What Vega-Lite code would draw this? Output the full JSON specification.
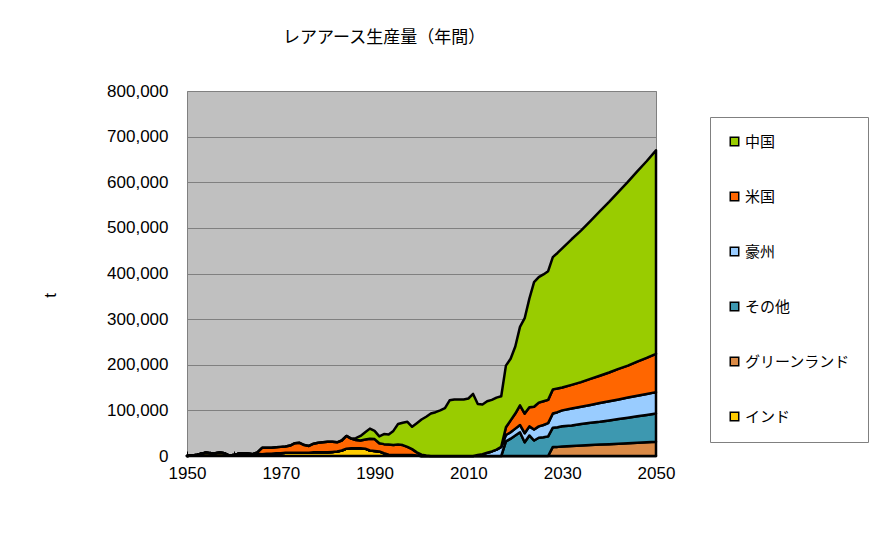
{
"$schema":"https://vega.github.io/schema/vega-lite/v6.json",
"width":469,"height":365,
"autosize":{"type":"none"},
"padding":{"left":187,"top":91,"right":214,"bottom":97},
"background":"white",
"title":{"text":"レアアース生産量（年間）","font":"Noto Sans CJK JP","fontSize":17,"fontWeight":"normal","color":"black","anchor":"start","frame":"group","dx":96,"offset":35},
"datasets":{
"ranks":[{"country":"インド","rank":1},{"country":"グリーンランド","rank":2},{"country":"その他","rank":3},{"country":"豪州","rank":4},{"country":"米国","rank":5},{"country":"中国","rank":6}],
"prod":[
{"year":1950,"インド":0,"グリーンランド":0,"その他":0,"豪州":0,"米国":0,"中国":0},
{"year":1951,"インド":1000,"グリーンランド":0,"その他":0,"豪州":0,"米国":0,"中国":0},
{"year":1952,"インド":2000,"グリーンランド":0,"その他":0,"豪州":0,"米国":0,"中国":0},
{"year":1953,"インド":5000,"グリーンランド":0,"その他":0,"豪州":0,"米国":0,"中国":0},
{"year":1954,"インド":7000,"グリーンランド":0,"その他":0,"豪州":0,"米国":0,"中国":0},
{"year":1955,"インド":6000,"グリーンランド":0,"その他":0,"豪州":0,"米国":0,"中国":0},
{"year":1956,"インド":6000,"グリーンランド":0,"その他":0,"豪州":0,"米国":0,"中国":0},
{"year":1957,"インド":7000,"グリーンランド":0,"その他":0,"豪州":0,"米国":0,"中国":0},
{"year":1958,"インド":6000,"グリーンランド":0,"その他":0,"豪州":0,"米国":0,"中国":0},
{"year":1959,"インド":1000,"グリーンランド":0,"その他":0,"豪州":0,"米国":0,"中国":0},
{"year":1960,"インド":2000,"グリーンランド":0,"その他":0,"豪州":0,"米国":0,"中国":0},
{"year":1961,"インド":5000,"グリーンランド":0,"その他":0,"豪州":0,"米国":0,"中国":0},
{"year":1962,"インド":6000,"グリーンランド":0,"その他":0,"豪州":0,"米国":0,"中国":0},
{"year":1963,"インド":5000,"グリーンランド":0,"その他":0,"豪州":0,"米国":0,"中国":0},
{"year":1964,"インド":4000,"グリーンランド":0,"その他":0,"豪州":0,"米国":0,"中国":0},
{"year":1965,"インド":5000,"グリーンランド":0,"その他":0,"豪州":0,"米国":3000,"中国":0},
{"year":1966,"インド":4000,"グリーンランド":0,"その他":0,"豪州":0,"米国":14000,"中国":0},
{"year":1967,"インド":5000,"グリーンランド":0,"その他":0,"豪州":0,"米国":13000,"中国":0},
{"year":1968,"インド":5000,"グリーンランド":0,"その他":0,"豪州":0,"米国":13000,"中国":0},
{"year":1969,"インド":6000,"グリーンランド":0,"その他":0,"豪州":0,"米国":13000,"中国":0},
{"year":1970,"インド":6000,"グリーンランド":0,"その他":0,"豪州":0,"米国":14000,"中国":0},
{"year":1971,"インド":7000,"グリーンランド":0,"その他":0,"豪州":0,"米国":14000,"中国":0},
{"year":1972,"インド":7000,"グリーンランド":0,"その他":0,"豪州":0,"米国":16000,"中国":0},
{"year":1973,"インド":7000,"グリーンランド":0,"その他":0,"豪州":0,"米国":21000,"中国":0},
{"year":1974,"インド":7000,"グリーンランド":0,"その他":0,"豪州":0,"米国":22000,"中国":0},
{"year":1975,"インド":7000,"グリーンランド":0,"その他":0,"豪州":0,"米国":17000,"中国":0},
{"year":1976,"インド":7000,"グリーンランド":0,"その他":0,"豪州":0,"米国":15000,"中国":0},
{"year":1977,"インド":8000,"グリーンランド":0,"その他":0,"豪州":0,"米国":19000,"中国":0},
{"year":1978,"インド":8000,"グリーンランド":0,"その他":0,"豪州":0,"米国":21000,"中国":0},
{"year":1979,"インド":8000,"グリーンランド":0,"その他":0,"豪州":0,"米国":22000,"中国":0},
{"year":1980,"インド":8000,"グリーンランド":0,"その他":0,"豪州":0,"米国":23000,"中国":0},
{"year":1981,"インド":9000,"グリーンランド":0,"その他":0,"豪州":0,"米国":22000,"中国":0},
{"year":1982,"インド":10000,"グリーンランド":0,"その他":0,"豪州":0,"米国":20000,"中国":0},
{"year":1983,"インド":12000,"グリーンランド":0,"その他":0,"豪州":0,"米国":22000,"中国":0},
{"year":1984,"インド":16000,"グリーンランド":0,"その他":0,"豪州":0,"米国":28000,"中国":0},
{"year":1985,"インド":17000,"グリーンランド":0,"その他":0,"豪州":0,"米国":21000,"中国":0},
{"year":1986,"インド":17000,"グリーンランド":0,"その他":0,"豪州":0,"米国":18000,"中国":4000},
{"year":1987,"インド":17000,"グリーンランド":0,"その他":0,"豪州":0,"米国":17000,"中国":10000},
{"year":1988,"インド":16000,"グリーンランド":0,"その他":0,"豪州":0,"米国":20000,"中国":16000},
{"year":1989,"インド":12000,"グリーンランド":0,"その他":0,"豪州":0,"米国":26000,"中国":22000},
{"year":1990,"インド":11000,"グリーンランド":0,"その他":0,"豪州":0,"米国":26000,"中国":18000},
{"year":1991,"インド":10000,"グリーンランド":0,"その他":0,"豪州":0,"米国":18000,"中国":15000},
{"year":1992,"インド":6000,"グリーンランド":0,"その他":0,"豪州":0,"米国":20000,"中国":22000},
{"year":1993,"インド":3000,"グリーンランド":0,"その他":0,"豪州":0,"米国":22000,"中国":22000},
{"year":1994,"インド":2000,"グリーンランド":0,"その他":0,"豪州":0,"米国":22000,"中国":31000},
{"year":1995,"インド":2000,"グリーンランド":0,"その他":0,"豪州":0,"米国":23000,"中国":45000},
{"year":1996,"インド":2000,"グリーンランド":0,"その他":0,"豪州":0,"米国":22000,"中国":49000},
{"year":1997,"インド":2000,"グリーンランド":0,"その他":0,"豪州":0,"米国":18000,"中国":55000},
{"year":1998,"インド":2000,"グリーンランド":0,"その他":0,"豪州":0,"米国":13000,"中国":49000},
{"year":1999,"インド":1000,"グリーンランド":0,"その他":0,"豪州":0,"米国":7000,"中国":64000},
{"year":2000,"インド":0,"グリーンランド":0,"その他":0,"豪州":0,"米国":3000,"中国":77000},
{"year":2001,"インド":0,"グリーンランド":0,"その他":0,"豪州":0,"米国":1000,"中国":85000},
{"year":2002,"インド":0,"グリーンランド":0,"その他":0,"豪州":0,"米国":0,"中国":93000},
{"year":2003,"インド":0,"グリーンランド":0,"その他":0,"豪州":0,"米国":0,"中国":96000},
{"year":2004,"インド":0,"グリーンランド":0,"その他":0,"豪州":0,"米国":0,"中国":100000},
{"year":2005,"インド":0,"グリーンランド":0,"その他":0,"豪州":0,"米国":0,"中国":105000},
{"year":2006,"インド":0,"グリーンランド":0,"その他":0,"豪州":0,"米国":0,"中国":122000},
{"year":2007,"インド":0,"グリーンランド":0,"その他":0,"豪州":0,"米国":0,"中国":124000},
{"year":2008,"インド":0,"グリーンランド":0,"その他":0,"豪州":0,"米国":0,"中国":124000},
{"year":2009,"インド":0,"グリーンランド":0,"その他":0,"豪州":0,"米国":0,"中国":124000},
{"year":2010,"インド":0,"グリーンランド":0,"その他":0,"豪州":0,"米国":0,"中国":126000},
{"year":2011,"インド":0,"グリーンランド":0,"その他":0,"豪州":0,"米国":0,"中国":136000},
{"year":2012,"インド":0,"グリーンランド":0,"その他":0,"豪州":2000,"米国":0,"中国":112000},
{"year":2013,"インド":0,"グリーンランド":0,"その他":0,"豪州":4000,"米国":0,"中国":109000},
{"year":2014,"インド":0,"グリーンランド":0,"その他":0,"豪州":7000,"米国":0,"中国":113000},
{"year":2015,"インド":0,"グリーンランド":0,"その他":0,"豪州":10000,"米国":0,"中国":113000},
{"year":2016,"インド":0,"グリーンランド":0,"その他":0,"豪州":14000,"米国":0,"中国":114000},
{"year":2017,"インド":0,"グリーンランド":0,"その他":0,"豪州":20000,"米国":0,"中国":111000},
{"year":2018,"インド":0,"グリーンランド":0,"その他":32000,"豪州":14000,"米国":17000,"中国":135000},
{"year":2019,"インド":0,"グリーンランド":0,"その他":38000,"豪州":14000,"米国":26000,"中国":135000},
{"year":2020,"インド":0,"グリーンランド":0,"その他":45000,"豪州":15000,"米国":33000,"中国":147000},
{"year":2021,"インド":0,"グリーンランド":0,"その他":52000,"豪州":16000,"米国":43000,"中国":172000},
{"year":2022,"インド":0,"グリーンランド":0,"その他":30000,"豪州":20000,"米国":43000,"中国":209000},
{"year":2023,"インド":0,"グリーンランド":0,"その他":45000,"豪州":20000,"米国":42000,"中国":238000},
{"year":2024,"インド":0,"グリーンランド":0,"その他":34000,"豪州":24000,"米国":50000,"中国":273000},
{"year":2025,"インド":0,"グリーンランド":0,"その他":40000,"豪州":25000,"米国":52000,"中国":275000},
{"year":2026,"インド":0,"グリーンランド":0,"その他":41000,"豪州":27000,"米国":52000,"中国":278000},
{"year":2027,"インド":0,"グリーンランド":0,"その他":43000,"豪州":29000,"米国":51000,"中国":282000},
{"year":2028,"インド":0,"グリーンランド":20000,"その他":42000,"豪州":31000,"米国":53000,"中国":290000},
{"year":2029,"インド":0,"グリーンランド":20000,"その他":43000,"豪州":33000,"米国":52000,"中国":297000},
{"year":2030,"インド":0,"グリーンランド":21000,"その他":44000,"豪州":35000,"米国":50000,"中国":305000},
{"year":2032,"インド":0,"グリーンランド":22000,"その他":45000,"豪州":37000,"米国":52000,"中国":319000},
{"year":2034,"インド":0,"グリーンランド":23000,"その他":47000,"豪州":38000,"米国":54000,"中国":332000},
{"year":2036,"インド":0,"グリーンランド":24000,"その他":49000,"豪州":39000,"米国":57000,"中国":346000},
{"year":2038,"インド":0,"グリーンランド":25000,"その他":50000,"豪州":41000,"米国":60000,"中国":360000},
{"year":2040,"インド":0,"グリーンランド":26000,"その他":52000,"豪州":42000,"米国":63000,"中国":374000},
{"year":2042,"インド":0,"グリーンランド":27000,"その他":54000,"豪州":43000,"米国":67000,"中国":388000},
{"year":2044,"インド":0,"グリーンランド":28000,"その他":56000,"豪州":44000,"米国":70000,"中国":403000},
{"year":2046,"インド":0,"グリーンランド":29000,"その他":58000,"豪州":45000,"米国":75000,"中国":417000},
{"year":2048,"インド":0,"グリーンランド":30000,"その他":60000,"豪州":46000,"米国":79000,"中国":431000},
{"year":2050,"インド":0,"グリーンランド":31000,"その他":62000,"豪州":47000,"米国":84000,"中国":446000}
]},
"data":{"name":"prod"},
"transform":[
{"fold":["インド","グリーンランド","その他","豪州","米国","中国"],"as":["country","t"]},
{"lookup":"country","from":{"data":{"name":"ranks"},"key":"country","fields":["rank"]}}
],
"mark":{"type":"area","stroke":"black","strokeWidth":2.5,"strokeJoin":"round","opacity":1,"fillOpacity":1},
"encoding":{
"x":{"field":"year","type":"quantitative","scale":{"domain":[1950,2050],"nice":false,"zero":false},
"axis":{"values":[1950,1955,1960,1965,1970,1975,1980,1985,1990,1995,2000,2005,2010,2015,2020,2025,2030,2035,2040,2045,2050],"format":"d","labelExpr":"datum.value % 20 === 10 ? datum.label : ''","labelFlush":false,"labelOverlap":false,"grid":false,"domain":false,"tickSize":-5,"tickColor":"black","tickWidth":1,"labelFont":"Liberation Sans","labelFontSize":17,"labelColor":"black","labelPadding":14,"title":null}},
"y":{"field":"t","type":"quantitative","stack":"zero","scale":{"domain":[0,800000],"nice":false},
"axis":{"values":[0,100000,200000,300000,400000,500000,600000,700000,800000],"format":",d","grid":true,"gridColor":"#808080","gridWidth":1,"domain":false,"ticks":false,"labelPadding":19,"labelFont":"Liberation Sans","labelFontSize":17,"labelColor":"black","title":"t","titleFont":"Liberation Sans","titleFontSize":17,"titleFontWeight":"normal","titleColor":"black","titleX":-128,"titleY":204}},
"color":{"field":"country","type":"nominal","sort":["中国","米国","豪州","その他","グリーンランド","インド"],
"scale":{"domain":["中国","米国","豪州","その他","グリーンランド","インド"],"range":["#99CC00","#FF6600","#99CCFF","#3D98B0","#DA8A46","#FFCC00"]},
"legend":{"orient":"none","legendX":523,"legendY":26,"title":null,"symbolType":"square","symbolSize":72,"symbolStrokeColor":"black","symbolStrokeWidth":1.5,"symbolOpacity":1,"labelFont":"Noto Sans CJK JP","labelFontSize":15,"labelColor":"black","labelOffset":3,"rowPadding":39,"padding":17,"strokeColor":"#808080","fillColor":"white"}},
"order":{"field":"rank","type":"quantitative"}
},
"config":{"view":{"fill":"#C0C0C0","stroke":"#808080","strokeWidth":1}}
}
